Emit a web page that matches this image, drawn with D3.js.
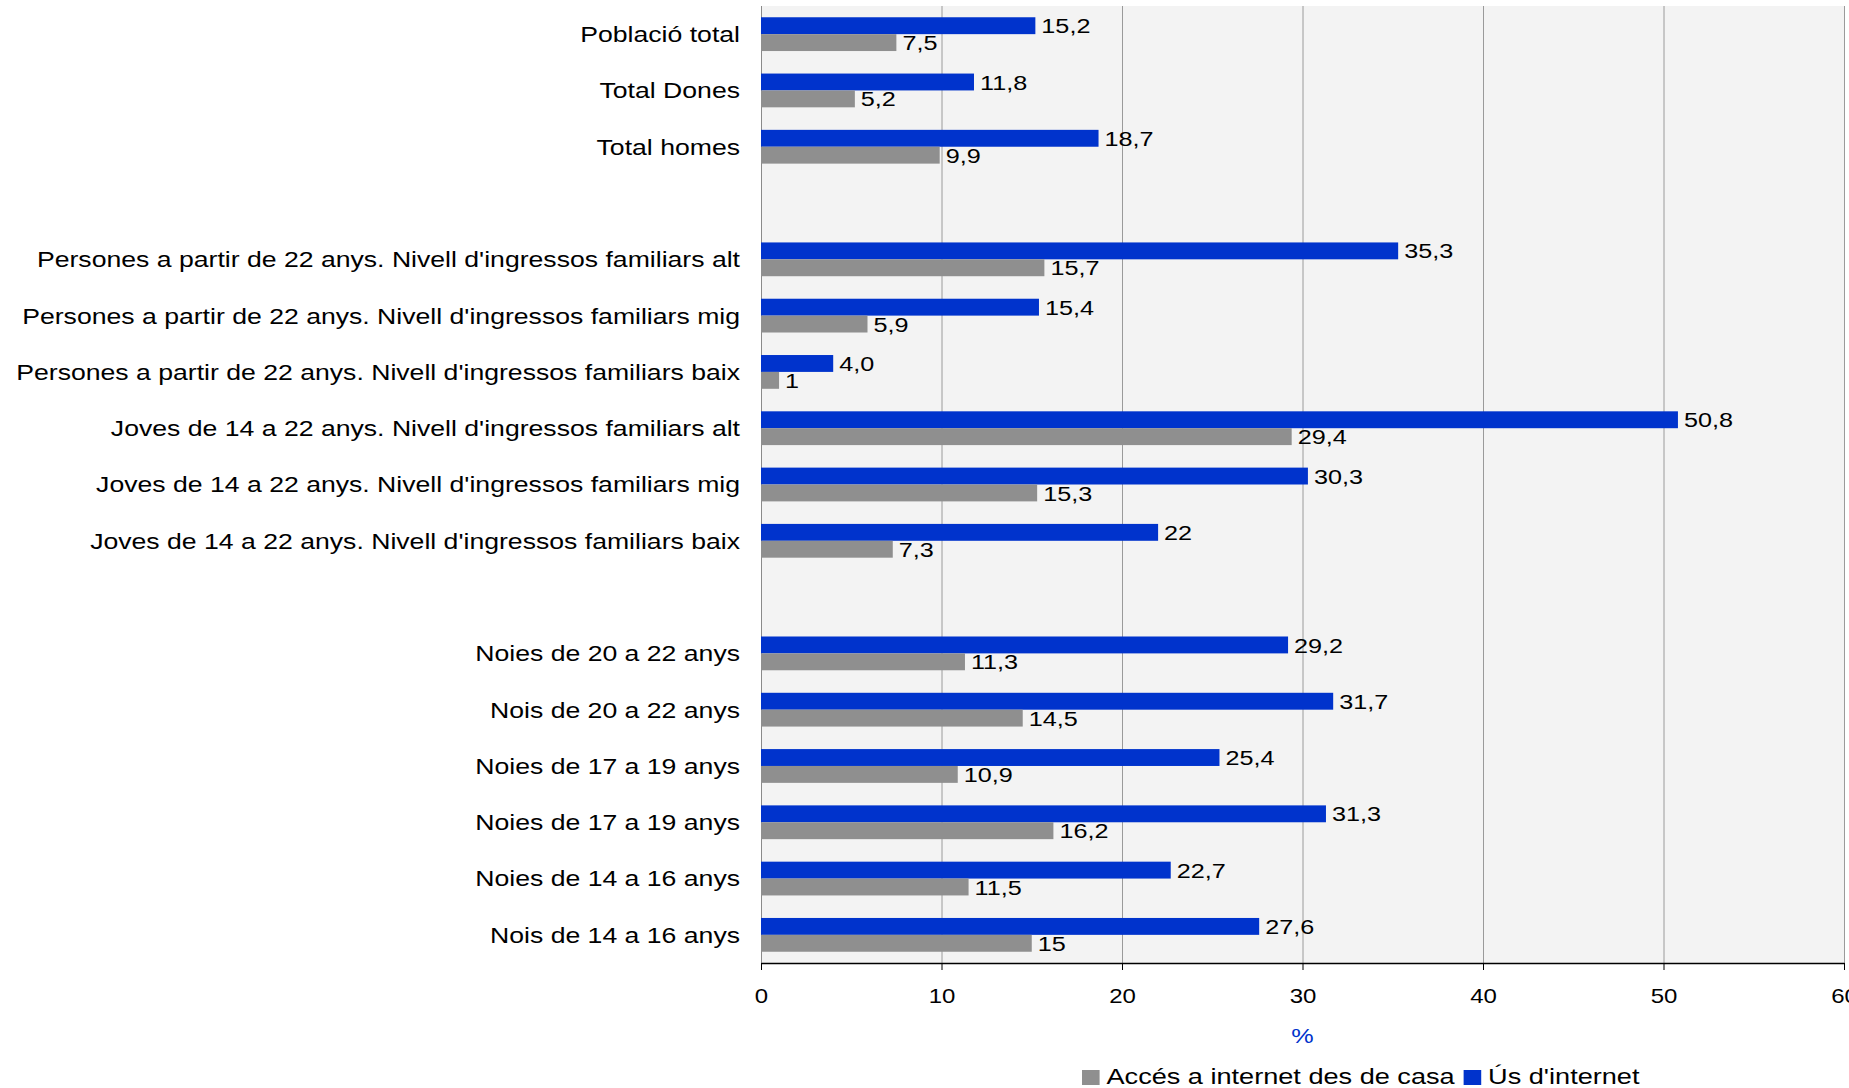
<!DOCTYPE html>
<html>
<head>
<meta charset="utf-8">
<script src="https://cdn.jsdelivr.net/npm/d3@7"></script>
<style>
  body { margin: 0; background: #fff; }
  text { font-family: "Liberation Sans", Arial, sans-serif; fill: #000; }
</style>
</head>
<body>
<svg id="chart" width="1849" height="1088"></svg>
<script>
// categories, top to bottom ("" = empty row used as a gap)
var categories = [
  "Població total",
  "Total Dones",
  "Total homes",
  "",
  "Persones a partir de 22 anys. Nivell d'ingressos familiars alt",
  "Persones a partir de 22 anys. Nivell d'ingressos familiars mig",
  "Persones a partir de 22 anys. Nivell d'ingressos familiars baix",
  "Joves de 14 a 22 anys. Nivell d'ingressos familiars alt",
  "Joves de 14 a 22 anys. Nivell d'ingressos familiars mig",
  "Joves de 14 a 22 anys. Nivell d'ingressos familiars baix",
  "",
  "Noies de 20 a 22 anys",
  "Nois de 20 a 22 anys",
  "Noies de 17 a 19 anys",
  "Noies de 17 a 19 anys",
  "Noies de 14 a 16 anys",
  "Nois de 14 a 16 anys"
];

// Ús d'internet (blue)
var usValues = [15.2, 11.8, 18.7, null, 35.3, 15.4, 4.0, 50.8, 30.3, 22, null, 29.2, 31.7, 25.4, 31.3, 22.7, 27.6];
var usLabels = ["15,2", "11,8", "18,7", "", "35,3", "15,4", "4,0", "50,8", "30,3", "22", "", "29,2", "31,7", "25,4", "31,3", "22,7", "27,6"];

// Accés a internet des de casa (gray)
var accesValues = [7.5, 5.2, 9.9, null, 15.7, 5.9, 1, 29.4, 15.3, 7.3, null, 11.3, 14.5, 10.9, 16.2, 11.5, 15];
var accesLabels = ["7,5", "5,2", "9,9", "", "15,7", "5,9", "1", "29,4", "15,3", "7,3", "", "11,3", "14,5", "10,9", "16,2", "11,5", "15"];

var xTicks = [0, 10, 20, 30, 40, 50, 60];
var seriesKeys = ["us", "acces"];
var seriesNames = ["Accés a internet des de casa", "Ús d'internet"];

var BLUE = "#0033cc", GRAY = "#8f8f8f";
var SX = 1.2; // the original text is a little wide

var svg = d3.select("#chart");

var plotLeft = 761, plotRight = 1844, plotTop = 6, plotBottom = 963;

var x = d3.scaleLinear().domain([0, 60]).range([plotLeft, plotRight]);
var y = d3.scaleBand()
  .domain(d3.range(categories.length))
  .range([plotTop, plotBottom])
  .paddingInner(0.4)
  .paddingOuter(0.2);
var sub = d3.scaleBand().domain(seriesKeys).range([0, y.bandwidth()]);
var color = d3.scaleOrdinal().domain(seriesKeys).range([BLUE, GRAY]);

var rows = categories.map(function(c, i) {
  return { i: i, name: c, us: usValues[i], acces: accesValues[i],
           usLab: usLabels[i], accesLab: accesLabels[i] };
});

// plot background
svg.append("rect")
  .attr("x", plotLeft).attr("y", plotTop)
  .attr("width", plotRight - plotLeft).attr("height", plotBottom - plotTop)
  .attr("fill", "#f3f3f3");

// vertical gridlines
svg.append("g").selectAll("line")
  .data(xTicks.slice(1))
  .enter().append("line")
  .attr("x1", function(d) { return x(d) + 0.5; })
  .attr("x2", function(d) { return x(d) + 0.5; })
  .attr("y1", plotTop).attr("y2", plotBottom)
  .attr("stroke", "#9a9a9a").attr("stroke-width", 1);

// left axis line
svg.append("line")
  .attr("x1", plotLeft + 0.5).attr("x2", plotLeft + 0.5)
  .attr("y1", plotTop).attr("y2", plotBottom)
  .attr("stroke", "#8a8a8a");

// bars
var bars = svg.append("g").selectAll("g")
  .data(rows.filter(function(d) { return d.us != null; }))
  .enter().append("g")
  .attr("transform", function(d) { return "translate(0," + y(d.i) + ")"; });

function pairs(d) {
  return seriesKeys.map(function(k) { return { k: k, v: d[k], lab: d[k + "Lab"] }; });
}

bars.selectAll("rect")
  .data(pairs)
  .enter().append("rect")
  .attr("x", x(0))
  .attr("y", function(d) { return sub(d.k); })
  .attr("width", function(d) { return x(d.v) - x(0); })
  .attr("height", sub.bandwidth())
  .attr("fill", function(d) { return color(d.k); });

// value labels
bars.selectAll("text")
  .data(pairs)
  .enter().append("text")
  .attr("transform", function(d) {
    return "translate(" + (x(d.v) + 6) + "," + (sub(d.k) + sub.bandwidth() / 2) + ") scale(" + SX + ",1)";
  })
  .attr("dy", "0.36em")
  .style("font-size", "21px")
  .text(function(d) { return d.lab; });

// category labels
svg.append("g").selectAll("text")
  .data(rows.filter(function(d) { return d.name !== ""; }))
  .enter().append("text")
  .attr("transform", function(d) {
    return "translate(" + (plotLeft - 21) + "," + (y(d.i) + y.bandwidth() / 2) + ") scale(1.21,1)";
  })
  .attr("dy", "0.36em")
  .attr("text-anchor", "end")
  .style("font-size", "22px")
  .text(function(d) { return d.name; });

// bottom axis
var xAxis = svg.append("g")
  .attr("transform", "translate(0," + plotBottom + ")")
  .call(d3.axisBottom(x).tickValues(xTicks).tickSize(7).tickSizeOuter(0).tickPadding(19));
xAxis.select(".domain").attr("stroke", "#000").attr("stroke-width", 1.5);
xAxis.selectAll(".tick line").attr("stroke", "#000");
xAxis.selectAll(".tick text")
  .attr("transform", "scale(" + SX + ",1)")
  .style("font-size", "20px")
  .style("font-family", "'Liberation Sans', Arial, sans-serif")
  .attr("fill", "#000");

// axis title
svg.append("text")
  .attr("transform", "translate(" + x(30) + ",1043) scale(" + SX + ",1)")
  .attr("text-anchor", "middle")
  .style("font-size", "21px")
  .style("fill", BLUE)
  .text("%");

// legend
var legend = svg.append("g").attr("transform", "translate(1082,1070)");
var legendKeys = ["acces", "us"];
var lx = 0;
legendKeys.forEach(function(k, i) {
  legend.append("rect")
    .attr("x", lx).attr("y", 0)
    .attr("width", 17.6).attr("height", 15)
    .attr("fill", color(k));
  var t = legend.append("text")
    .attr("transform", "translate(" + (lx + 24.5) + ",14) scale(" + SX + ",1)")
    .style("font-size", "22.6px")
    .text(seriesNames[i]);
  lx += 24.5 + t.node().getComputedTextLength() * SX + 9;
});
</script>
</body>
</html>
